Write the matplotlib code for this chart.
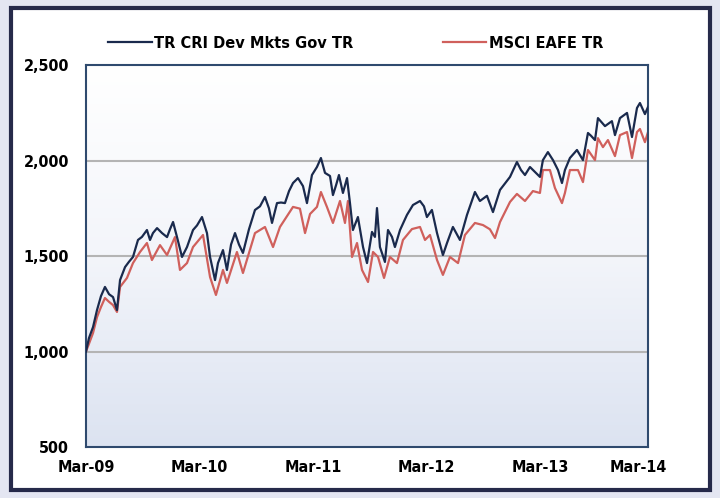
import numpy as np
import matplotlib.pyplot as plt
from matplotlib.colors import LinearSegmentedColormap
from matplotlib.patches import Rectangle

# values, x as decimal years (start Mar-09)
gov_years = [2009.170, 2009.196, 2009.232, 2009.267, 2009.302, 2009.337, 2009.373, 2009.408, 2009.443, 2009.470,
             2009.514, 2009.549, 2009.584, 2009.628, 2009.663, 2009.707, 2009.734, 2009.760, 2009.796, 2009.840,
             2009.884, 2009.910, 2009.937, 2009.972, 2010.016, 2010.060, 2010.113, 2010.148, 2010.192, 2010.236,
             2010.263, 2010.307, 2010.333, 2010.377, 2010.412, 2010.448, 2010.483, 2010.518, 2010.553, 2010.606,
             2010.659, 2010.703, 2010.747, 2010.782, 2010.809, 2010.853, 2010.888, 2010.923, 2010.959, 2010.994,
             2011.038, 2011.082, 2011.117, 2011.161, 2011.205, 2011.240, 2011.276, 2011.320, 2011.346, 2011.373,
             2011.399, 2011.434, 2011.470, 2011.496, 2011.522, 2011.566, 2011.611, 2011.646, 2011.690, 2011.716,
             2011.734, 2011.760, 2011.804, 2011.831, 2011.866, 2011.892, 2011.937, 2011.998, 2012.051, 2012.113,
             2012.148, 2012.174, 2012.218, 2012.263, 2012.315, 2012.351, 2012.403, 2012.465, 2012.527, 2012.597,
             2012.641, 2012.703, 2012.756, 2012.818, 2012.862, 2012.906, 2012.967, 2013.003, 2013.038, 2013.082,
             2013.126, 2013.170, 2013.196, 2013.240, 2013.285, 2013.329, 2013.364, 2013.390, 2013.434, 2013.496,
             2013.549, 2013.593, 2013.619, 2013.655, 2013.681, 2013.743, 2013.804, 2013.831, 2013.875, 2013.937,
             2013.981, 2014.025, 2014.051, 2014.095, 2014.122]
gov_values = [1000, 1070, 1128, 1217, 1290, 1338, 1300, 1285, 1217, 1374,
              1442, 1470, 1495, 1584, 1600, 1636, 1584, 1620, 1646, 1620,
              1599, 1640, 1678, 1599, 1495, 1547, 1636, 1660, 1704, 1620,
              1495, 1374, 1463, 1531, 1427, 1560, 1620, 1560, 1516, 1640,
              1741, 1760, 1809, 1750, 1673, 1777, 1780, 1777, 1840, 1882,
              1908, 1866, 1777, 1924, 1966, 2013, 1935, 1919, 1819, 1870,
              1924, 1830, 1908, 1777, 1636, 1704, 1547, 1463, 1626, 1600,
              1751, 1547, 1469, 1636, 1600, 1547, 1636, 1715, 1767, 1788,
              1760, 1704, 1741, 1620, 1505, 1568, 1652, 1584, 1715, 1835,
              1788, 1815, 1730, 1846, 1880, 1914, 1992, 1950, 1924, 1966,
              1940, 1914, 2002, 2044, 2002, 1950, 1882, 1950, 2013, 2055,
              2002, 2144, 2130, 2107, 2222, 2180, 2206, 2133, 2222, 2249,
              2123, 2275, 2301, 2243, 2280]

eafe_years = [2009.170, 2009.196, 2009.232, 2009.267, 2009.302, 2009.337, 2009.373, 2009.408, 2009.443, 2009.470,
              2009.531, 2009.584, 2009.646, 2009.707, 2009.751, 2009.822, 2009.884, 2009.954, 2009.998, 2010.060,
              2010.113, 2010.201, 2010.263, 2010.315, 2010.377, 2010.412, 2010.500, 2010.553, 2010.659, 2010.747,
              2010.818, 2010.879, 2010.994, 2011.055, 2011.100, 2011.144, 2011.205, 2011.240, 2011.293, 2011.346,
              2011.408, 2011.452, 2011.478, 2011.514, 2011.558, 2011.602, 2011.655, 2011.699, 2011.743, 2011.796,
              2011.848, 2011.910, 2011.963, 2012.042, 2012.113, 2012.157, 2012.201, 2012.263, 2012.315, 2012.377,
              2012.448, 2012.509, 2012.597, 2012.668, 2012.729, 2012.774, 2012.818, 2012.906, 2012.967, 2013.038,
              2013.108, 2013.170, 2013.196, 2013.258, 2013.302, 2013.364, 2013.390, 2013.434, 2013.505, 2013.549,
              2013.593, 2013.655, 2013.681, 2013.725, 2013.769, 2013.831, 2013.875, 2013.937, 2013.981, 2014.025,
              2014.051, 2014.095, 2014.122]
eafe_values = [1000, 1040, 1097, 1180, 1233, 1280, 1260, 1243, 1207, 1338,
               1385, 1463, 1521, 1568, 1479, 1557, 1505, 1599, 1427, 1463,
               1547, 1610, 1390, 1296, 1427, 1359, 1521, 1411, 1620, 1652,
               1547, 1652, 1757, 1748, 1620, 1720, 1757, 1835, 1757, 1673,
               1788, 1673, 1788, 1495, 1568, 1427, 1364, 1521, 1495, 1385,
               1495, 1463, 1584, 1641, 1652, 1584, 1610, 1479, 1401, 1495,
               1463, 1610, 1673, 1662, 1640, 1594, 1678, 1783, 1825, 1788,
               1840, 1830, 1950, 1950, 1856, 1777, 1830, 1950, 1950, 1887,
               2055, 2002, 2117, 2070, 2107, 2023, 2133, 2149, 2013, 2149,
               2165, 2096, 2149]

tick_labels = ['Mar-09', 'Mar-10', 'Mar-11', 'Mar-12', 'Mar-13', 'Mar-14']
tick_pos = [2009.17, 2010.17, 2011.17, 2012.17, 2013.17, 2014.033]

navy = '#1a2a4d'
red = '#d0605c'
fnt = dict(family='DejaVu Sans', stretch='condensed', weight='bold')

fig = plt.figure(figsize=(7.2, 4.98), dpi=100)
fig.patch.set_facecolor('#e4e6f2')
fig.patches.append(Rectangle((11 / 720, 1 - 490 / 498), 699 / 720, 482 / 498,
                             transform=fig.transFigure, facecolor='white',
                             edgecolor='#262a4a', lw=3, zorder=-10))

ax = fig.add_axes([86 / 720, 1 - 447 / 498, 562 / 720, 382 / 498])
xmin, xmax = 2009.17, 2014.122
grad = np.linspace(0, 1, 256).reshape(-1, 1)
bg = LinearSegmentedColormap.from_list('bg', ['#ffffff', '#f3f5fa', '#dce3f1'])
ax.imshow(grad, extent=[xmin, xmax, 500, 2500], aspect='auto', origin='upper',
          cmap=bg, zorder=0)

for yv in [1000, 1500, 2000]:
    ax.axhline(yv, color='#b4b4b4', lw=1.5, zorder=1)

ax.plot(gov_years, gov_values, color=navy, lw=1.6, label='TR CRI Dev Mkts Gov TR', zorder=3)
ax.plot(eafe_years, eafe_values, color=red, lw=1.6, label='MSCI EAFE TR', zorder=2)

ax.set_xlim(xmin, xmax)
ax.set_ylim(500, 2500)
ax.set_yticks([500, 1000, 1500, 2000, 2500])
ax.set_yticklabels(['500', '1,000', '1,500', '2,000', '2,500'], **fnt, fontsize=11.5)
ax.set_xticks(tick_pos)
ax.set_xticklabels(tick_labels, **fnt, fontsize=11.5)
ax.tick_params(axis='y', length=0, pad=12)
ax.tick_params(axis='x', length=0, pad=9)
for s in ax.spines.values():
    s.set_color('#2f4a6e')
    s.set_linewidth(1.5)

fig.legend(loc='upper left', bbox_to_anchor=(93 / 720, 1 - 21 / 498), ncol=2,
           frameon=False, handlelength=2.7, columnspacing=5.5, handletextpad=0.15,
           prop=dict(**fnt, size=11.7))

fig.savefig('out.png', dpi=100, facecolor=fig.get_facecolor())
